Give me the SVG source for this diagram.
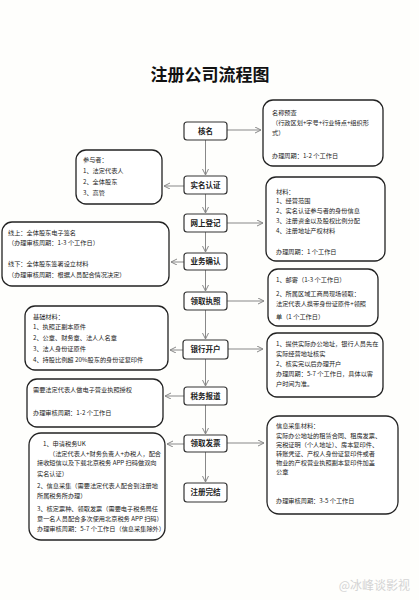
<svg xmlns="http://www.w3.org/2000/svg" width="419" height="600" viewBox="0 0 419 600">
<style>
.node rect{fill:#fff;stroke:#333;stroke-width:1.2}
.node text{font-family:"Noto Sans CJK SC",sans-serif;font-size:7.5px;font-weight:bold;fill:#222;text-anchor:middle}
.box rect{fill:#fff;stroke:#222;stroke-width:1.3}
.box text{font-family:"Noto Sans CJK SC",sans-serif;font-size:6.2px;fill:#222}
.conn line{stroke:#888;stroke-width:1;marker-end:url(#arr)}
.title{font-family:"Noto Sans CJK SC",sans-serif;font-size:17px;font-weight:bold;fill:#111;text-anchor:middle}
</style>
<defs>
<marker id="arr" markerWidth="8" markerHeight="8" refX="6" refY="3" orient="auto" markerUnits="userSpaceOnUse">
<path d="M0,0 L6,3 L0,6" fill="none" stroke="#888" stroke-width="1"/>
</marker>
</defs>
<rect width="419" height="600" fill="#fefefc"/>
<text class="title" x="210" y="81">注册公司流程图</text>

<g class="conn">
<line x1="205.5" y1="140" x2="205.5" y2="175"/>
<line x1="205.5" y1="194" x2="205.5" y2="213"/>
<line x1="205.5" y1="232" x2="205.5" y2="252"/>
<line x1="205.5" y1="270" x2="205.5" y2="291"/>
<line x1="205.5" y1="310" x2="205.5" y2="339"/>
<line x1="205.5" y1="359" x2="205.5" y2="386"/>
<line x1="205.5" y1="405" x2="205.5" y2="434"/>
<line x1="205.5" y1="452" x2="205.5" y2="482"/>
<line x1="227" y1="130" x2="261" y2="130"/>
<line x1="184" y1="186" x2="164" y2="186"/>
<line x1="227" y1="223" x2="263" y2="223"/>
<line x1="184" y1="262" x2="171" y2="262"/>
<line x1="227" y1="301" x2="264" y2="301"/>
<line x1="183" y1="350" x2="170" y2="350"/>
<line x1="228" y1="349" x2="263" y2="349"/>
<line x1="184" y1="396" x2="165" y2="396"/>
<line x1="184" y1="444" x2="167" y2="444"/>
<line x1="227" y1="443" x2="264" y2="443"/>
</g>

<g id="n1" class="node"><rect x="184" y="122" width="43" height="18" rx="3"/><text x="205.5" y="133.8">核名</text></g>
<g id="n2" class="node"><rect x="184" y="176" width="43" height="18" rx="3"/><text x="205.5" y="187.8">实名认证</text></g>
<g id="n3" class="node"><rect x="184" y="214" width="43" height="18" rx="3"/><text x="205.5" y="225.8">网上登记</text></g>
<g id="n4" class="node"><rect x="184" y="253" width="43" height="17" rx="3"/><text x="205.5" y="264.3">业务确认</text></g>
<g id="n5" class="node"><rect x="184" y="292" width="43" height="18" rx="3"/><text x="205.5" y="303.8">领取执照</text></g>
<g id="n6" class="node"><rect x="183" y="340" width="45" height="19" rx="3"/><text x="205.5" y="352.3">银行开户</text></g>
<g id="n7" class="node"><rect x="184" y="387" width="43" height="18" rx="3"/><text x="205.5" y="398.8">税务报道</text></g>
<g id="n8" class="node"><rect x="184" y="435" width="43" height="17" rx="3"/><text x="205.5" y="446.3">领取发票</text></g>
<g id="n9" class="node"><rect x="184" y="483" width="43" height="19" rx="3"/><text x="205.5" y="495.3">注册完结</text></g>

<g id="r1" class="box"><rect x="263" y="100" width="120" height="66" rx="10"/>
<text x="272" y="115">名称预查</text>
<text x="272" y="125">（行政区划+字号+行业特点+组织形</text>
<text x="272" y="135">式）</text>
<text x="272" y="158">办理周期：1-2 个工作日</text>
</g>
<g id="l1" class="box"><rect x="76" y="150" width="86" height="54" rx="10"/>
<text x="83" y="162">参与者：</text>
<text x="83" y="173">1、法定代表人</text>
<text x="83" y="184">2、全体股东</text>
<text x="83" y="195">3、高管</text>
</g>
<g id="r2" class="box"><rect x="266" y="177" width="119" height="84" rx="10"/>
<text x="276" y="194">材料：</text>
<text x="276" y="203">1、经营范围</text>
<text x="276" y="213">2、实名认证参与者的身份信息</text>
<text x="276" y="223">3、注册资金以及股权比例分配</text>
<text x="276" y="233">4、注册地址产权材料</text>
<text x="276" y="254">办理周期：1 个工作日</text>
</g>
<g id="l2" class="box"><rect x="2" y="222" width="167" height="64" rx="10"/>
<text x="8" y="235">线上：全体股东电子签名</text>
<text x="8" y="245">（办理审核周期：1-3 个工作日）</text>
<text x="8" y="266">线下：全体股东签署设立材料</text>
<text x="8" y="277">（办理审核周期：根据人员配合情况决定）</text>
</g>
<g id="r3" class="box"><rect x="268" y="269" width="110" height="57" rx="10"/>
<text x="276" y="282">1、邮寄（1-3 个工作日）</text>
<text x="276" y="296">2、所属区域工商局现场领取：</text>
<text x="276" y="306">法定代表人携带身份证原件+领照</text>
<text x="276" y="319">单（1 个工作日）</text>
</g>
<g id="l3" class="box"><rect x="25" y="306" width="143" height="64" rx="10"/>
<text x="33" y="318.5">基础材料：</text>
<text x="33" y="329">1、执照正副本原件</text>
<text x="33" y="340">2、公章、财务章、法人人名章</text>
<text x="33" y="351">3、法人身份证原件</text>
<text x="33" y="362">4、持股比例超 20%股东的身份证复印件</text>
</g>
<g id="r4" class="box"><rect x="267" y="333" width="116" height="64" rx="10"/>
<text x="276" y="346">1、提供实际办公地址，银行人员先在</text>
<text x="276" y="356">实际经营地址核实</text>
<text x="276" y="366">2、核实完以后办理开户</text>
<text x="276" y="376">办理周期：5-7 个工作日，具体以客</text>
<text x="276" y="386">户时间为准。</text>
</g>
<g id="l4" class="box"><rect x="27" y="379" width="136" height="48" rx="10"/>
<text x="33" y="392">需要法定代表人做电子营业执照授权</text>
<text x="33" y="415">办理审核周期：1-2 个工作日</text>
</g>
<g id="r5" class="box"><rect x="267" y="416" width="131" height="98" rx="12"/>
<text x="276" y="428">信息采集材料：</text>
<text x="276" y="438">实际办公地址的租赁合同、租房发票、</text>
<text x="276" y="447">完税证明（个人地址）、房本复印件、</text>
<text x="276" y="456">转账凭证、产权人身份证复印件或者</text>
<text x="276" y="465">物业的产权营业执照副本复印件加盖</text>
<text x="276" y="474">公章</text>
<text x="276" y="503">办理审核周期：3-5 个工作日</text>
</g>
<g id="l5" class="box"><rect x="29" y="433" width="136" height="107" rx="12"/>
<text x="43" y="446">1、申请税务UK</text>
<text x="49" y="455.5">（法定代表人+财务负责人+办税人，配合</text>
<text x="37" y="465">接收短信以及下载北京税务 APP 扫码做双向</text>
<text x="37" y="475.5">实名认证）</text>
<text x="37" y="488">2、信息采集（需要法定代表人配合到注册地</text>
<text x="37" y="497.5">所属税务所办理）</text>
<text x="37" y="510.5">3、核定票种、领取发票（需要电子税务局任</text>
<text x="37" y="521">意一名人员配合多次使用北京税务 APP 扫码）</text>
<text x="37" y="530.5">办理审核周期：5-7 个工作日（信息采集除外）</text>
</g>

<text x="410" y="590" font-family="Noto Sans CJK SC,sans-serif" font-size="12" fill="#d4d4d4" text-anchor="end">@冰峰谈影视</text>
</svg>
